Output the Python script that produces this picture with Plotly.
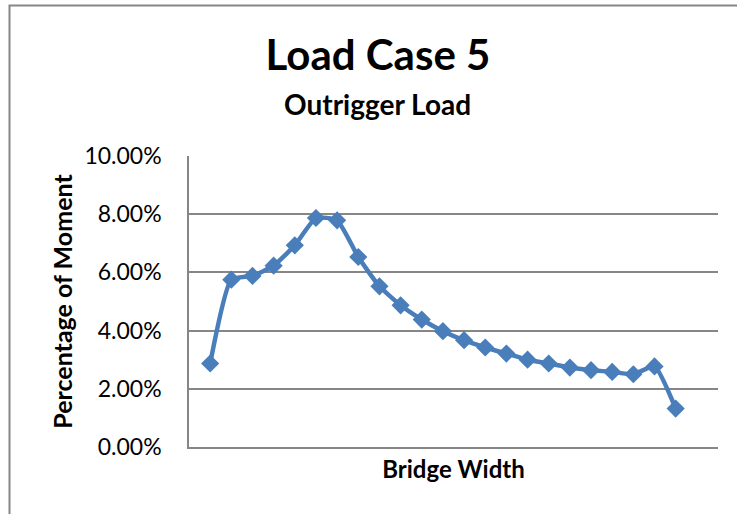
import plotly.graph_objects as go

# positions across the bridge width (category slots 1..23 on a 0..25 axis)
stations = list(range(1, 24))
moment_pct = [0.0287, 0.0575, 0.0588, 0.0623, 0.0693, 0.0787, 0.0779, 0.0653,
              0.0552, 0.0487, 0.0438, 0.0398, 0.0367, 0.0342, 0.0321, 0.0300,
              0.0287, 0.0273, 0.0264, 0.0258, 0.0250, 0.0277, 0.0132]
y_ticks = [0, 0.02, 0.04, 0.06, 0.08, 0.10]

blue = "#4A7EBB"
grid = "#868686"
font = "Lato"

fig = go.Figure()
fig.add_trace(go.Scatter(
    x=stations, y=moment_pct, mode="lines+markers",
    line=dict(color=blue, width=4.5, shape="spline", smoothing=0.5),
    marker=dict(symbol="diamond", size=14, color=blue),
    showlegend=False,
))

fig.update_layout(
    width=737, height=514,
    paper_bgcolor="white", plot_bgcolor="white",
    margin=dict(l=189, r=19, t=156, b=67),
    font=dict(family=font, color="black"),
    title=dict(text="<b>Load Case 5</b>", x=378 / 737, xanchor="center",
               y=1 - 55.5 / 514, yanchor="middle", yref="container",
               font=dict(size=42, family=font)),
    annotations=[dict(text="<b>Outrigger Load</b>", xref="paper", yref="paper",
                      x=0.5, y=1.0, xshift=-76, yshift=52, showarrow=False,
                      xanchor="center", yanchor="middle",
                      font=dict(size=28, family=font))],
    shapes=[dict(type="rect", xref="paper", yref="paper",
                 xsizemode="pixel", ysizemode="pixel", xanchor=0, yanchor=1,
                 x0=-179.5, x1=700, y0=150.5, y1=-500,
                 line=dict(color=grid, width=2), fillcolor="rgba(0,0,0,0)",
                 layer="below")],
)
fig.update_xaxes(range=[0, 25], showticklabels=False, showgrid=False,
                 zeroline=False, showline=True, linecolor=grid, linewidth=1.5,
                 title=dict(text="<b>Bridge Width</b>", standoff=13,
                            font=dict(size=24, family=font)))
fig.update_yaxes(range=[0, 0.10], tickvals=y_ticks, tickformat=".2%",
                 showgrid=True, gridcolor=grid, gridwidth=1.5, zeroline=False,
                 showline=True, linecolor=grid, linewidth=1.5,
                 tickfont=dict(size=23, family=font), ticklabelstandoff=21,
                 title=dict(text="<b>Percentage of Moment</b>", standoff=5,
                            font=dict(size=25, family=font)))

# drop the default 8px page margin so the figure sits at the window corner
fig.write_html("out.html", config={"displayModeBar": False},
               post_script="document.body.style.margin='0';")
